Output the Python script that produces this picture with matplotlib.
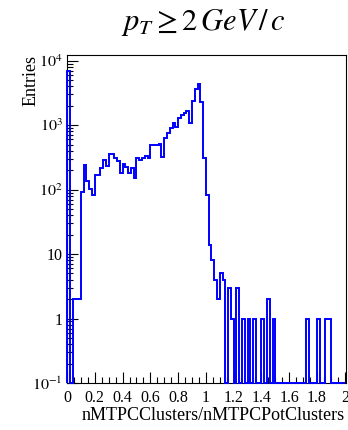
import numpy as np
import matplotlib.pyplot as plt
from matplotlib.ticker import FixedLocator, FixedFormatter, MultipleLocator, LogLocator, NullFormatter

plt.rcParams['font.family'] = ['Liberation Serif', 'DejaVu Serif']
plt.rcParams['mathtext.fontset'] = 'stix'

# histogram: 100 bins between 0 and 2
x_lo, x_hi, n_bins = 0.0, 2.0, 100
counts = [6900, 0, 2, 2, 2, 93, 240, 135, 104, 83,
          167, 170, 216, 290, 234, 356, 352, 310, 277, 183,
          251, 224, 179, 216, 153, 306, 288, 306, 332, 306,
          490, 490, 500, 517, 324, 643, 768, 895, 1095, 935,
          1277, 1438, 1566, 1660, 1080, 2330, 3600, 4340, 2250, 313,
          82, 14, 8, 4, 2, 5, 4, 0, 3, 1,
          0, 3, 0, 1, 0, 1, 0, 1, 0, 0,
          1, 0, 2, 0, 1, 0, 0, 0, 0, 0,
          0, 0, 0, 0, 0, 0, 1, 0, 0, 0,
          1, 0, 0, 1, 1, 0, 0, 0, 0, 0]

y_ticks = [0.1, 1, 10, 100, 1000, 10000]
y_tick_labels = [r'$10^{-1}$', '1', '10', r'$10^{2}$', r'$10^{3}$', r'$10^{4}$']
x_ticks = [0, 0.2, 0.4, 0.6, 0.8, 1, 1.2, 1.4, 1.6, 1.8, 2]
x_tick_labels = ['0', '0.2', '0.4', '0.6', '0.8', '1', '1.2', '1.4', '1.6', '1.8', '2']

y_min, y_max = 0.1, 12400

edges = np.linspace(x_lo, x_hi, n_bins + 1)
vals = np.array(counts, dtype=float)
vals = np.where(vals > 0, vals, y_min)

fig = plt.figure(figsize=(3.48, 4.30), dpi=100)
ax = fig.add_axes([67/348, 1 - 383/430, (345.5 - 67)/348, (383 - 54.7)/430])

ax.stairs(vals, edges, baseline=y_min, color=(0, 0, 1), lw=1.4, clip_on=False, zorder=3)

ax.set_yscale('log')
ax.set_xlim(x_lo, 2.005)
ax.set_ylim(y_min, y_max)

ax.xaxis.set_major_locator(FixedLocator(x_ticks))
ax.xaxis.set_major_formatter(FixedFormatter(x_tick_labels))
ax.xaxis.set_minor_locator(MultipleLocator(0.05))
ax.yaxis.set_major_locator(FixedLocator(y_ticks))
ax.yaxis.set_major_formatter(FixedFormatter(y_tick_labels))
ax.yaxis.set_minor_locator(LogLocator(base=10, subs=np.arange(2, 10)))
ax.yaxis.set_minor_formatter(NullFormatter())

ax.tick_params(which='both', direction='in', top=False, right=False, width=0.8, labelsize=11.5)
ax.tick_params(which='major', length=8)
ax.tick_params(which='minor', length=4)
ax.tick_params(axis='x', pad=5)
ax.tick_params(axis='y', pad=3)
for s in ax.spines.values():
    s.set_linewidth(0.8)

fig.text(345/348, 1 - 416/430, 'nMTPCClusters/nMTPCPotClusters', fontsize=13,
         ha='right', va='center')
fig.text(31/348, 1 - 55/430, 'Entries', fontsize=13, rotation=90,
         ha='center', va='top')

fig.text(203/348, 1 - 22/430, r'$p_{T}\geq 2\,GeV\,/\,c$', fontsize=22, ha='center', va='center')

fig.savefig('out.png', dpi=100)
